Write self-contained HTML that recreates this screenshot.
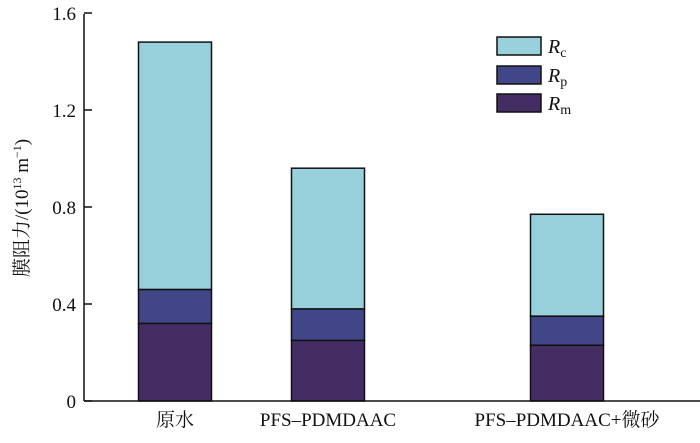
<!DOCTYPE html>
<html><head><meta charset="utf-8"><style>
body{margin:0;background:#fff}
svg text{font-family:"Liberation Serif","Noto Serif CJK SC",serif;fill:#111}
</style></head><body>
<svg width="700" height="438">
<g id="bars"></g>
<g id="axes"></g>
<g id="legend"></g>
</svg>
<script>
const categories=["原水","PFS–PDMDAAC","PFS–PDMDAAC+微砂"];
const rm=[0.32,0.25,0.23];
const rp=[0.14,0.13,0.12];
const rc=[1.02,0.58,0.42];
const ticks=[0,0.4,0.8,1.2,1.6];
const tickLabels=["0","0.4","0.8","1.2","1.6"];
const NS="http://www.w3.org/2000/svg";
const y=v=>401-v*242.5;
const cx=[175,328,567];
const bw=73;
function el(t,a,p){const e=document.createElementNS(NS,t);for(const k in a)e.setAttribute(k,a[k]);p.appendChild(e);return e;}
const bars=document.getElementById('bars'),axes=document.getElementById('axes'),leg=document.getElementById('legend');
const colors={rm:"#432d63",rp:"#404687",rc:"#98d0dc"};
categories.forEach((c,i)=>{
  let base=0;
  [["rm",rm],["rp",rp],["rc",rc]].forEach(([k,arr])=>{
    const v=arr[i];
    const r=el('rect',{x:cx[i]-bw/2,y:y(base+v),width:bw,height:y(base)-y(base+v),fill:colors[k],stroke:"#111","stroke-width":1.5},bars);
    
    
    base+=v;
  });
  const t=el('text',{x:cx[i],y:426,"text-anchor":"middle","font-size":19},axes);
  t.textContent=c;
  
  
});
el('line',{x1:84,y1:14,x2:84,y2:401,stroke:"#111","stroke-width":1.5},axes);
el('line',{x1:84,y1:401,x2:700,y2:401,stroke:"#111","stroke-width":1.5},axes);
ticks.forEach((v,i)=>{
  el('line',{x1:84,x2:92,y1:y(v),y2:y(v),stroke:"#111","stroke-width":1.5},axes);
  const t=el('text',{x:76,y:y(v)+7,"text-anchor":"end","font-size":19},axes);
  t.textContent=tickLabels[i];
  
  
});
const yt=el('text',{transform:"translate(28,208) rotate(-90)","text-anchor":"middle","font-size":19},axes);
yt.innerHTML='膜阻力/(10<tspan font-size="12" dy="-7">13</tspan><tspan dy="7"> m</tspan><tspan font-size="12" dy="-7">−1</tspan><tspan dy="7">)</tspan>';


[["rc","c",37],["rp","p",66],["rm","m",94]].forEach(([k,s,yy])=>{
  const r=el('rect',{x:497,y:yy,width:44,height:18,fill:colors[k],stroke:"#111","stroke-width":1.5},leg);
  
  
  const t=el('text',{x:548,y:yy+16,"font-size":20,"font-style":"italic"},leg);
  t.innerHTML='R<tspan font-style="normal" font-size="14" dy="4">'+s+'</tspan>';
  
  
});
</script>
</body></html>
